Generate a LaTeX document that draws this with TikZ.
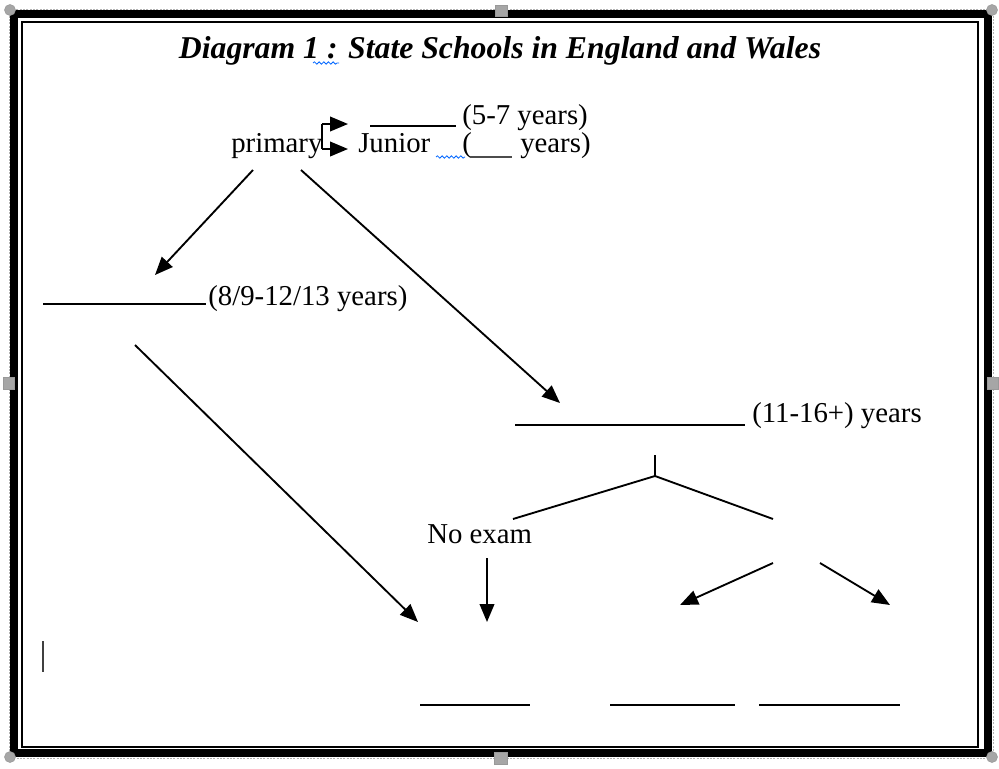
\documentclass[tikz,border=0pt]{standalone}
\usepackage{fontspec}
\setmainfont{Liberation Serif}
\usetikzlibrary{arrows.meta,decorations.pathmorphing}
\begin{document}
\begin{tikzpicture}[x=0.75pt,y=-0.75pt,
  txt/.style={font=\fontsize{21.6}{24}\selectfont,inner sep=0pt,anchor=base west},
  conn/.style={line width=1.4pt,-{Triangle[length=13.5pt,width=11pt]}},
  plain/.style={line width=1.4pt},
  blank/.style={line width=1.2pt},
  squiggle/.style={draw=blue!60!cyan,line width=0.6pt,decorate,decoration={snake,amplitude=0.9pt,segment length=3.5pt}},
  handle/.style={fill=gray!70,draw=gray!80,line width=0.4pt}]
\useasboundingbox (0,0) rectangle (999,768);
\fill[white] (0,0) rectangle (999,768);

% selection outline and resize handles
\draw[gray!60,line width=0.6pt,dash pattern=on 1.5pt off 1pt] (9,9) rectangle (993,758);
% double frame
\draw[line width=6pt] (14,14) rectangle (987.5,753);
\draw[line width=1.5pt] (22,21.5) rectangle (978,746.5);
\filldraw[handle] (10,10) circle (5.5) (992,10) circle (5.5) (10,757) circle (5.5) (992,757) circle (5.5);
\filldraw[handle] (495,5) rectangle (507,16) (494,752) rectangle (507,764)
  (3,377) rectangle (14,389) (987,377) rectangle (998,389);

% title
\node[txt,anchor=base,font=\fontsize{23.8}{26}\selectfont\bfseries\itshape] (title) at (500,58) {Diagram 1 : State Schools in England and Wales};
\draw[squiggle] (313,63) -- (339,63);

% primary branch
\node[txt] (primary) at (231,152) {primary};
\coordinate (brT) at (322,124);
\coordinate (brB) at (322,149);
\coordinate (infT) at (348,124);
\coordinate (junT) at (348,149);
\draw[plain] (brT) -- (brB);
\draw[conn] (brT) -- (infT);
\draw[conn] (brB) -- (junT);
\coordinate (infA) at (370,126);
\coordinate (infB) at (456,126);
\draw[blank] (infA) -- (infB);
\node[txt] (infage) at (462,124) {(5-7 years)};
\node[txt] (junior) at (358,152) {Junior};
\node[txt] (junopen) at (462,152) {(};
\node[txt] (junage) at (520,152) {years)};
\coordinate (junA) at (470,157);
\coordinate (junB) at (512,157);
\draw[blank,gray!60!black] (junA) -- (junB);
\draw[squiggle] (436,157) -- (465,157);

% middle school
\coordinate (p1) at (253,170);
\coordinate (mid) at (155,275);
\draw[conn] (p1) -- (mid);
\coordinate (midA) at (43,304);
\coordinate (midB) at (206,304);
\draw[blank] (midA) -- (midB);
\node[txt] (midage) at (208,305) {(8/9-12/13 years)};

% secondary school
\coordinate (p2) at (301,170);
\coordinate (sec) at (560,403);
\draw[conn] (p2) -- (sec);
\coordinate (secA) at (515,425);
\coordinate (secB) at (745,425);
\draw[blank] (secA) -- (secB);
\node[txt] (secage) at (752,422) {(11-16+) years};

% fork below secondary
\coordinate (forkT) at (655,455);
\coordinate (fork) at (655,476);
\coordinate (forkL) at (513,519);
\coordinate (forkR) at (773,519);
\draw[plain] (forkT) -- (fork);
\draw[plain] (fork) -- (forkL);
\draw[plain] (fork) -- (forkR);

\node[txt] (noexam) at (427,543) {No exam};
\coordinate (ne1) at (487,558);
\coordinate (ne2) at (487,622);
\draw[conn] (ne1) -- (ne2);

% middle school onward
\coordinate (m1) at (135,345);
\coordinate (m2) at (418,622);
\draw[conn] (m1) -- (m2);

% exam branches
\coordinate (e1) at (773,563);
\coordinate (e2) at (680,605);
\draw[conn] (e1) -- (e2);
\coordinate (f1) at (820,563);
\coordinate (f2) at (890,605);
\draw[conn] (f1) -- (f2);

% answer blanks
\coordinate (b1a) at (420,705);
\coordinate (b1b) at (530,705);
\coordinate (b2a) at (610,705);
\coordinate (b2b) at (735,705);
\coordinate (b3a) at (759,705);
\coordinate (b3b) at (900,705);
\draw[blank] (b1a) -- (b1b);
\draw[blank] (b2a) -- (b2b);
\draw[blank] (b3a) -- (b3b);

% text cursor
\coordinate (curA) at (43,641);
\coordinate (curB) at (43,672);
\draw[gray!50!black,line width=1pt] (curA) -- (curB);
\end{tikzpicture}
\end{document}
